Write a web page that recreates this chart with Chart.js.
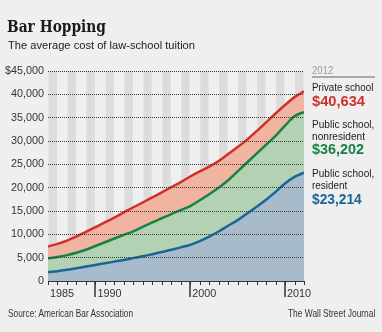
<!DOCTYPE html>
<html>
<head>
<meta charset="utf-8">
<script src="https://cdn.jsdelivr.net/npm/chart.js@4.4.1/dist/chart.umd.min.js"></script>
<style>
  html, body { margin:0; padding:0; background:#efefef; }
  #wrap { position:relative; width:382px; height:332px; background:#efefef; overflow:hidden; }
  #c { position:absolute; left:0; top:0; }
  .t { position:absolute; white-space:nowrap; line-height:1; transform-origin:0 0; font-family:"Liberation Sans", Arial, sans-serif; color:#222; }
</style>
</head>
<body>
<div id="wrap">
  <canvas id="c" width="382" height="332"></canvas>
  <div class="t" data-x="7" data-b="33" data-w="99" data-f="17.5" style="font-family:'DejaVu Serif', serif; font-weight:bold; color:#1a1a1a;">Bar Hopping</div>
  <div class="t" data-x="7.5" data-b="50" data-w="187" data-f="11.8">The average cost of law-school tuition</div>
  <div class="t" data-x="312" data-b="74" data-w="21.3" data-f="10.5" style="color:#9a9a9a;">2012</div>
  <div style="position:absolute; left:312px; top:76px; width:63px; height:1.5px; background:#a8a8a8;"></div>
  <div class="t" data-x="312" data-b="91.7" data-w="61.3" data-f="11.8">Private school</div>
  <div class="t" data-x="312" data-b="106.7" data-w="53" data-f="14.5" style="font-weight:bold; color:#d0302a;">$40,634</div>
  <div class="t" data-x="312" data-b="128.7" data-w="62.3" data-f="11.8">Public school,</div>
  <div class="t" data-x="312" data-b="141" data-w="53" data-f="11.8">nonresident</div>
  <div class="t" data-x="312" data-b="154.7" data-w="52" data-f="14.5" style="font-weight:bold; color:#178146;">$36,202</div>
  <div class="t" data-x="312" data-b="178.3" data-w="62.3" data-f="11.8">Public school,</div>
  <div class="t" data-x="312" data-b="190" data-w="35.3" data-f="11.8">resident</div>
  <div class="t" data-x="312" data-b="204" data-w="49.7" data-f="14.5" style="font-weight:bold; color:#1b6497;">$23,214</div>
  <div class="t" data-x="8.3" data-b="317" data-w="125" data-f="11" style="color:#333;">Source: American Bar Association</div>
  <div class="t" data-x="287.7" data-b="317" data-w="87.3" data-f="11" style="color:#333;">The Wall Street Journal</div>
</div>
<script>
// ---- data ----
const years = [1985,1986,1987,1988,1989,1990,1991,1992,1993,1994,1995,1996,1997,1998,1999,2000,2001,2002,2003,2004,2005,2006,2007,2008,2009,2010,2011,2012];
const privateSchool = [7400,7950,8650,9550,10550,11550,12550,13600,14700,15800,16850,17900,19000,20100,21200,22400,23500,24500,25700,27200,28700,30300,32100,34000,35900,37700,39400,40634];
const publicNonresident = [4850,5150,5550,6050,6700,7500,8300,9100,9900,10650,11600,12550,13450,14350,15200,16050,17300,18600,20000,21600,23500,25400,27300,29200,31100,33300,35300,36202];
const publicResident = [1900,2100,2400,2750,3100,3450,3800,4150,4500,4900,5300,5750,6200,6700,7200,7750,8550,9500,10600,11850,13050,14450,15900,17400,19100,20900,22300,23214];
const yTicks = [0,5000,10000,15000,20000,25000,30000,35000,40000,45000];
const xTickLabels = [1985,1990,2000,2010];
const majorTickYears = [1990,2000,2010];

// ---- text placement ----
document.querySelectorAll('.t').forEach(el => {
  const f = parseFloat(el.dataset.f);
  el.style.fontSize = f + 'px';
  el.style.left = el.dataset.x + 'px';
  el.style.top = (parseFloat(el.dataset.b) - 0.85 * f) + 'px';
  const w = el.getBoundingClientRect().width;
  const target = parseFloat(el.dataset.w);
  if (w > 0) el.style.transform = 'scaleX(' + (target / w) + ')';
});

const pts = arr => years.map((yr, i) => ({x: yr, y: arr[i]}));

const stripes = {
  id: 'stripes',
  beforeDatasetsDraw(chart) {
    const {ctx} = chart;
    const xs = chart.scales.x, ys = chart.scales.y;
    const top = ys.getPixelForValue(yTicks[yTicks.length - 1]);
    const bottom = ys.getPixelForValue(0);
    ctx.save();
    ctx.fillStyle = '#dcdcdc';
    for (let i = 0; i < years.length - 1; i += 2) {
      const a = xs.getPixelForValue(years[i] + 0.06);
      const b = xs.getPixelForValue(years[i] + 0.94);
      ctx.fillRect(a, top, b - a, bottom - top);
    }
    ctx.restore();
  }
};

const axisTicks = {
  id: 'axisTicks',
  afterDraw(chart) {
    const {ctx} = chart;
    const xs = chart.scales.x;
    const bottom = chart.chartArea.bottom;
    ctx.save();
    ctx.strokeStyle = '#333';
    ctx.lineWidth = 1;
    years.forEach(yr => {
      const x = Math.round(xs.getPixelForValue(yr)) + 0.5;
      ctx.beginPath();
      ctx.moveTo(x, bottom);
      ctx.lineTo(x, bottom + 4);
      ctx.stroke();
    });
    ctx.lineWidth = 1.5;
    majorTickYears.forEach(yr => {
      const x = Math.round(xs.getPixelForValue(yr));
      ctx.beginPath();
      ctx.moveTo(x, bottom);
      ctx.lineTo(x, bottom + 16);
      ctx.stroke();
    });
    ctx.restore();
  }
};

const tickFont = {family: '"Liberation Sans", Arial, sans-serif', size: 10.8};

new Chart(document.getElementById('c'), {
  type: 'line',
  data: {
    datasets: [
      { label: 'Public school, resident', data: pts(publicResident), borderColor: '#1b6497', backgroundColor: '#a7bbca', fill: 'origin', borderWidth: 2.5, pointRadius: 0, cubicInterpolationMode: 'monotone' },
      { label: 'Public school, nonresident', data: pts(publicNonresident), borderColor: '#178146', backgroundColor: '#b3d2b4', fill: 'origin', borderWidth: 2.5, pointRadius: 0, cubicInterpolationMode: 'monotone' },
      { label: 'Private school', data: pts(privateSchool), borderColor: '#d0302a', backgroundColor: '#f0b4a1', fill: 'origin', borderWidth: 2.5, pointRadius: 0, cubicInterpolationMode: 'monotone' }
    ]
  },
  options: {
    responsive: false,
    animation: false,
    devicePixelRatio: 1,
    layout: { padding: { left: 0, top: 71, right: 78, bottom: 0 } },
    plugins: { legend: { display: false }, tooltip: { enabled: false } },
    scales: {
      x: {
        type: 'linear',
        min: years[0],
        max: years[years.length - 1],
        afterFit(s) { s.height = 51; },
        afterBuildTicks(s) { s.ticks = xTickLabels.map(v => ({value: v})); },
        grid: { display: false, drawTicks: false },
        border: { display: true, color: '#333', width: 1 },
        ticks: { autoSkip: false, maxRotation: 0, minRotation: 0, align: 'start', labelOffset: 2, padding: 7, color: '#333', font: tickFont, callback: v => String(v) }
      },
      y: {
        min: 0,
        max: 45000,
        afterFit(s) { s.width = 48; },
        afterBuildTicks(s) { s.ticks = yTicks.map(v => ({value: v})); },
        grid: { color: '#3a3a3a', lineWidth: 1, borderDash: [1, 1], drawTicks: false, z: 1 },
        border: { display: false, dash: [1, 1] },
        ticks: { padding: 4, color: '#333', font: tickFont,
          callback: v => (v === yTicks[yTicks.length - 1] ? '$' : '') + v.toLocaleString('en-US') }
      }
    }
  },
  plugins: [stripes, axisTicks]
});
</script>
</body>
</html>
